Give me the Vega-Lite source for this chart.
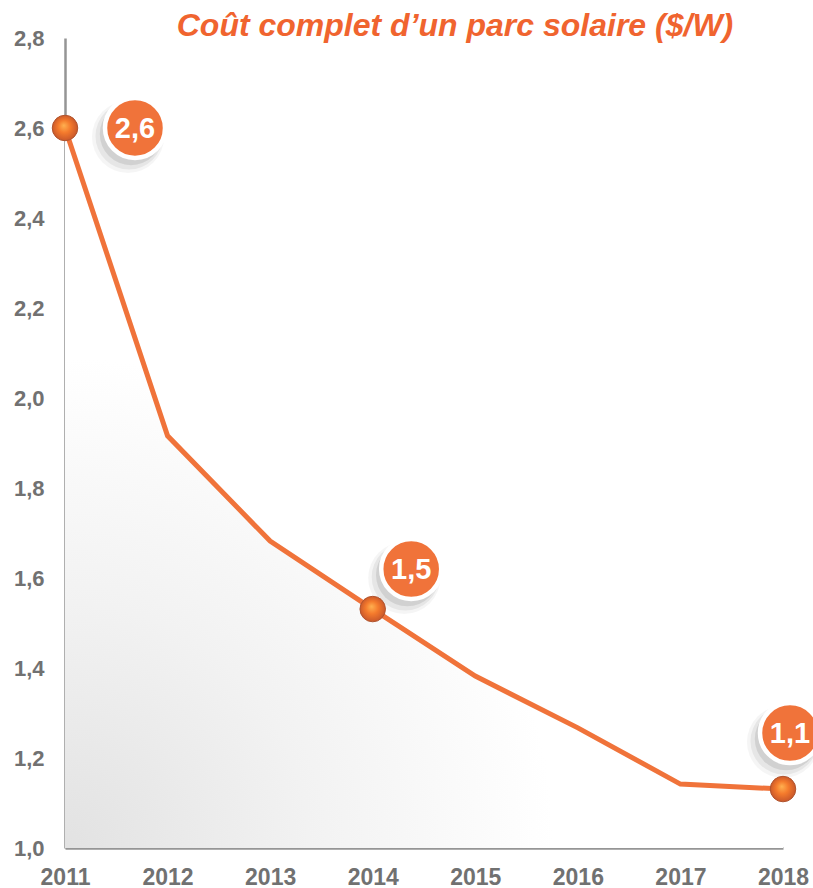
{
  "$schema": "https://vega.github.io/schema/vega-lite/v6.json",
  "autosize": "none",
  "width": 718,
  "height": 810,
  "padding": {"left": 65, "top": 38, "right": 30, "bottom": 40},
  "background": "white",
  "config": {
    "view": {"stroke": null},
    "font": "Liberation Sans",
    "axis": {
      "title": null, "grid": false, "ticks": false,
      "domainColor": "#959595", "domainWidth": 2.5,
      "labelColor": "#717171", "labelFont": "Liberation Sans", "labelFontWeight": "bold",
      "labelFlush": false, "labelOverlap": false
    }
  },
  "title": {
    "text": "Coût complet d’un parc solaire ($/W)",
    "color": "#f0642f",
    "font": "Liberation Sans",
    "fontSize": 32,
    "fontWeight": "bold",
    "fontStyle": "italic",
    "anchor": "middle",
    "dx": 31,
    "offset": -16
  },
  "data": {
    "values": [
      {"year": 2011, "value": 2.6},
      {"year": 2012, "value": 1.916},
      {"year": 2013, "value": 1.682},
      {"year": 2014, "value": 1.531},
      {"year": 2015, "value": 1.382},
      {"year": 2016, "value": 1.267},
      {"year": 2017, "value": 1.142},
      {"year": 2018, "value": 1.131}
    ]
  },
  "encoding": {
    "x": {
      "field": "year", "type": "quantitative",
      "scale": {"domain": [2011, 2018], "nice": false},
      "axis": {
        "values": [2011, 2012, 2013, 2014, 2015, 2016, 2017, 2018],
        "format": "d", "labelFontSize": 23, "labelPadding": 18
      }
    },
    "y": {
      "field": "value", "type": "quantitative",
      "scale": {"domain": [1, 2.8], "nice": false, "zero": false},
      "axis": {
        "values": [1, 1.2, 1.4, 1.6, 1.8, 2, 2.2, 2.4, 2.6, 2.8],
        "labelExpr": "replace(format(datum.value, '.1f'), '.', ',')",
        "labelFontSize": 22, "labelPadding": 21
      }
    }
  },
  "layer": [
    {
      "mark": {
        "type": "area",
        "fill": {
          "gradient": "radial",
          "x1": 0, "y1": 1, "r1": 0,
          "x2": 0, "y2": 1, "r2": 0.68,
          "stops": [
            {"offset": 0, "color": "#e2e2e2"},
            {"offset": 0.5, "color": "#f2f2f2"},
            {"offset": 1, "color": "#ffffff"}
          ]
        }
      },
      "encoding": {"y2": {"datum": 1}}
    },
    {
      "mark": {"type": "line", "color": "#f0733a", "strokeWidth": 5, "strokeJoin": "miter"}
    },
    {
      "transform": [{"filter": "datum.year == 2011"}],
      "layer": [
        {"mark": {"type": "point", "filled": true, "color": "#000", "opacity": 0.04, "size": 5200, "xOffset": 63, "yOffset": 9}},
        {"mark": {"type": "point", "filled": true, "color": "#000", "opacity": 0.06, "size": 4500, "xOffset": 64, "yOffset": 8}},
        {"mark": {"type": "point", "filled": true, "color": "#000", "opacity": 0.09, "size": 3900, "xOffset": 66, "yOffset": 6}},
        {"mark": {"type": "point", "filled": true, "fill": "#f0733a", "stroke": "white", "strokeWidth": 4.5, "opacity": 1, "size": 3600, "xOffset": 70, "yOffset": 0}},
        {"mark": {"type": "text", "color": "white", "font": "Liberation Sans", "fontSize": 29, "fontWeight": "bold", "xOffset": 70, "yOffset": 1, "baseline": "middle", "align": "center"},
         "encoding": {"text": {"value": "2,6"}}}
      ]
    },
    {
      "transform": [{"filter": "datum.year == 2014"}],
      "layer": [
        {"mark": {"type": "point", "filled": true, "color": "#000", "opacity": 0.04, "size": 5200, "xOffset": 31.5, "yOffset": -31}},
        {"mark": {"type": "point", "filled": true, "color": "#000", "opacity": 0.06, "size": 4500, "xOffset": 32.5, "yOffset": -32}},
        {"mark": {"type": "point", "filled": true, "color": "#000", "opacity": 0.09, "size": 3900, "xOffset": 34.5, "yOffset": -34}},
        {"mark": {"type": "point", "filled": true, "fill": "#f0733a", "stroke": "white", "strokeWidth": 4.5, "opacity": 1, "size": 3600, "xOffset": 38.5, "yOffset": -40}},
        {"mark": {"type": "text", "color": "white", "font": "Liberation Sans", "fontSize": 29, "fontWeight": "bold", "xOffset": 38.5, "yOffset": -39, "baseline": "middle", "align": "center"},
         "encoding": {"text": {"value": "1,5"}}}
      ]
    },
    {
      "transform": [{"filter": "datum.year == 2018"}],
      "layer": [
        {"mark": {"type": "point", "filled": true, "color": "#000", "opacity": 0.04, "size": 5200, "xOffset": 0, "yOffset": -47}},
        {"mark": {"type": "point", "filled": true, "color": "#000", "opacity": 0.06, "size": 4500, "xOffset": 1, "yOffset": -48}},
        {"mark": {"type": "point", "filled": true, "color": "#000", "opacity": 0.09, "size": 3900, "xOffset": 3, "yOffset": -50}},
        {"mark": {"type": "point", "filled": true, "fill": "#f0733a", "stroke": "white", "strokeWidth": 4.5, "opacity": 1, "size": 3600, "xOffset": 7, "yOffset": -56}},
        {"mark": {"type": "text", "color": "white", "font": "Liberation Sans", "fontSize": 29, "fontWeight": "bold", "xOffset": 7, "yOffset": -55, "baseline": "middle", "align": "center"},
         "encoding": {"text": {"value": "1,1"}}}
      ]
    },
    {
      "transform": [{"filter": "datum.year == 2011 || datum.year == 2014 || datum.year == 2018"}],
      "mark": {
        "type": "point", "filled": true, "size": 650, "opacity": 1,
        "fill": {
          "gradient": "radial",
          "x1": 0.45, "y1": 0.4, "r1": 0,
          "x2": 0.5, "y2": 0.5, "r2": 0.55,
          "stops": [
            {"offset": 0, "color": "#ffb050"},
            {"offset": 0.45, "color": "#f47a2c"},
            {"offset": 1, "color": "#c2522a"}
          ]
        },
        "stroke": "#b0542e", "strokeWidth": 1
      }
    }
  ]
}
